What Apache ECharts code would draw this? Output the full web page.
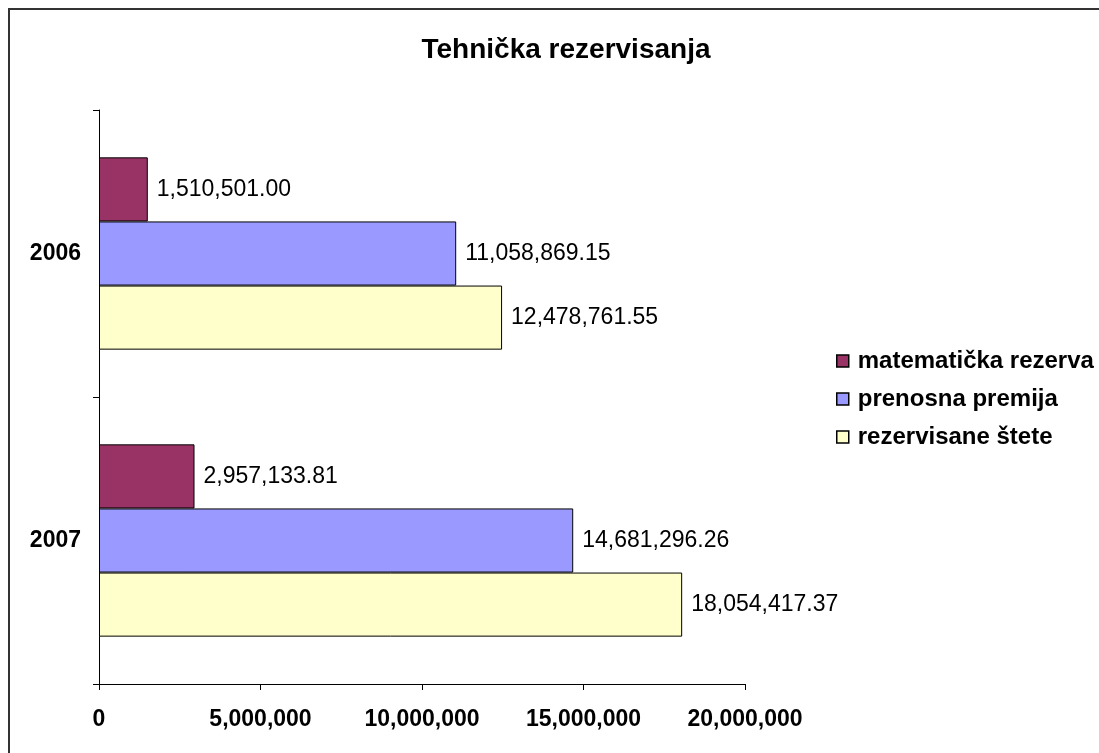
<!DOCTYPE html>
<html>
<head>
<meta charset="utf-8">
<script src="https://cdn.jsdelivr.net/npm/echarts@6/dist/echarts.min.js"></script>
<style>
  html, body { margin: 0; padding: 0; background: #fff; }
  #chart { width: 1099px; height: 753px; }
</style>
</head>
<body>
<div id="chart"></div>
<script>
// data
var years = ['2006', '2007'];
var seriesNames = ['matematička rezerva', 'prenosna premija', 'rezervisane štete'];
var matematicka = [1510501.00, 2957133.81];
var prenosna = [11058869.15, 14681296.26];
var rezervisane = [12478761.55, 18054417.37];
var colors = ['#993366', '#9999FF', '#FFFFCC'];

var FONT = '"Liberation Sans", Arial, sans-serif';

function fmt(v, dec) {
    return v.toLocaleString('en-US', { minimumFractionDigits: dec, maximumFractionDigits: dec });
}

function makeSeries(name, data, color) {
    return {
        name: name,
        type: 'bar',
        data: data,
        barGap: 0,
        barCategoryGap: '33%',
        itemStyle: { color: color, borderColor: '#000', borderWidth: 1 },
        label: {
            show: true,
            position: 'right',
            distance: 9,
            color: '#000',
            fontFamily: FONT,
            fontSize: 23,
            formatter: function (p) { return fmt(p.value, 2); }
        }
    };
}

var chart = echarts.init(document.getElementById('chart'));
chart.setOption({
    animation: false,
    color: colors,
    title: {
        text: 'Tehnička rezervisanja',
        left: 561,
        textAlign: 'center',
        top: 31,
        textStyle: { fontFamily: FONT, fontSize: 28, fontWeight: 'bold', color: '#000' }
    },
    legend: {
        orient: 'vertical',
        left: 836,
        top: 349,
        padding: 0,
        itemWidth: 12,
        itemHeight: 12,
        itemGap: 14,
        icon: 'rect',
        itemStyle: { borderColor: '#000', borderWidth: 1.5 },
        textStyle: { fontFamily: FONT, fontSize: 24, fontWeight: 'bold', color: '#000', padding: [0, 0, 0, 4] },
        data: seriesNames
    },
    graphic: [{
        type: 'rect',
        shape: { x: 9, y: 9, width: 1110, height: 770 },
        style: { fill: 'none', stroke: '#333', lineWidth: 2 },
        silent: true
    }],
    grid: { left: 99, right: 354, top: 110, bottom: 69 },
    xAxis: {
        type: 'value',
        min: 0,
        max: 20000000,
        interval: 5000000,
        axisLine: { show: true, lineStyle: { color: '#000', width: 1 } },
        axisTick: { show: true, length: 6, lineStyle: { color: '#000' } },
        splitLine: { show: false },
        axisLabel: {
            margin: 24,
            color: '#000',
            fontFamily: FONT,
            fontSize: 23,
            fontWeight: 'bold',
            formatter: function (v) { return fmt(v, 0); }
        }
    },
    yAxis: {
        type: 'category',
        inverse: true,
        data: years,
        axisLine: { show: true, lineStyle: { color: '#000', width: 1 } },
        axisTick: { show: true, length: 6, interval: 0, lineStyle: { color: '#000' } },
        axisLabel: {
            margin: 18,
            color: '#000',
            fontFamily: FONT,
            fontSize: 23,
            fontWeight: 'bold'
        }
    },
    series: [
        makeSeries(seriesNames[0], matematicka, colors[0]),
        makeSeries(seriesNames[1], prenosna, colors[1]),
        makeSeries(seriesNames[2], rezervisane, colors[2])
    ]
});
</script>
</body>
</html>
